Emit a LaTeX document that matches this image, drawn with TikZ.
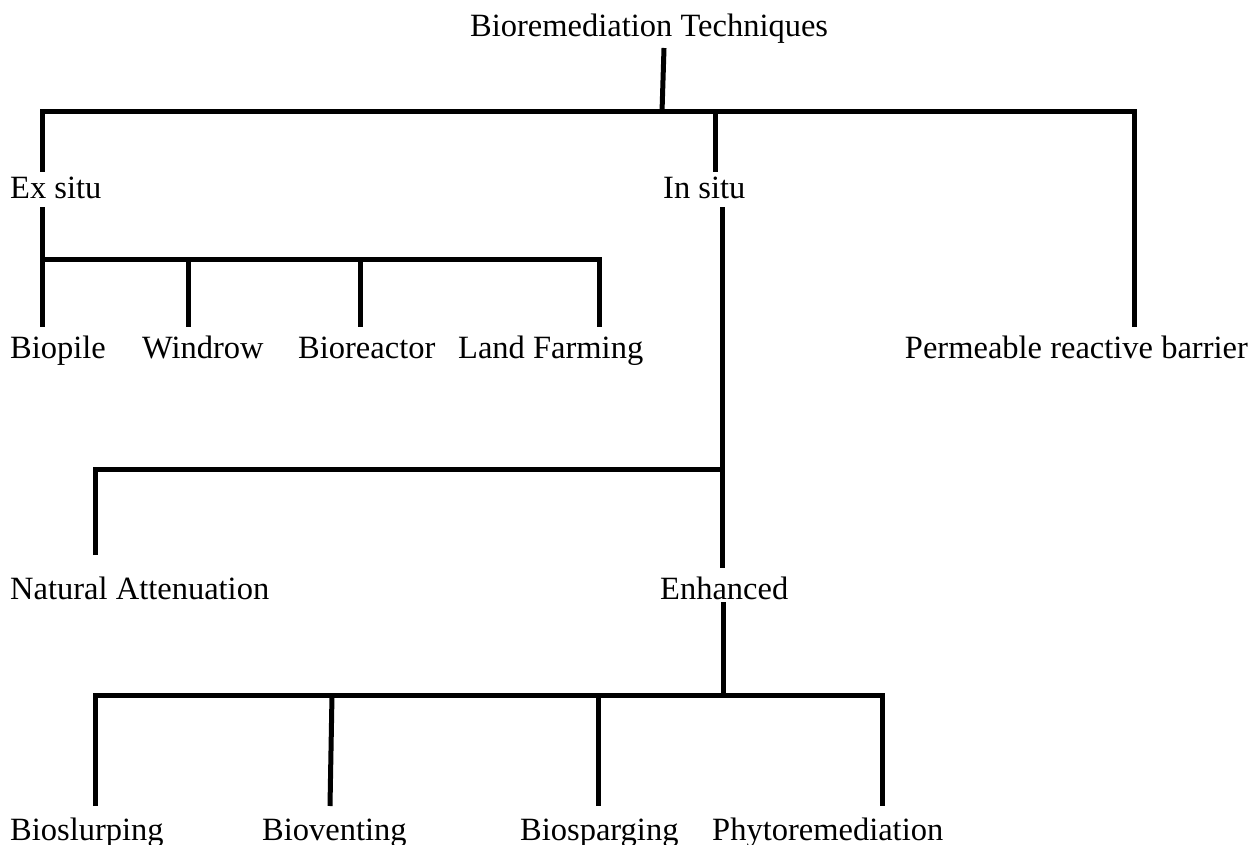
\documentclass[tikz,border=0pt]{standalone}
\usepackage{fontspec}
\setmainfont{Liberation Serif}
\begin{document}
\begin{tikzpicture}[x=1pt,y=-1pt,
  conn/.style={line width=5pt, draw=black},
  lbl/.style={inner sep=0pt, anchor=base west, font=\fontsize{32.5}{38}\selectfont}]
\useasboundingbox (0,0) rectangle (1252,845);
% labels
\node[lbl] (root) at (470,37) {Bioremediation Techniques};
\node[lbl] (ex) at (10,198) {Ex situ};
\node[lbl] (in) at (663,198) {In situ};
\node[lbl] (biopile) at (10,358) {Biopile};
\node[lbl] (windrow) at (142,358) {Windrow};
\node[lbl] (bioreactor) at (298,358) {Bioreactor};
\node[lbl] (land) at (458,358) {Land Farming};
\node[lbl, anchor=base east] (prb) at (1248,358) {Permeable reactive barrier};
\node[lbl] (nat) at (10,599) {Natural Attenuation};
\node[lbl] (enh) at (660,599) {Enhanced};
\node[lbl] (slurp) at (10,840) {Bioslurping};
\node[lbl] (vent) at (262,840) {Bioventing};
\node[lbl] (sparg) at (520,840) {Biosparging};
\node[lbl] (phyto) at (712,840) {Phytoremediation};
% junction coordinates
\coordinate (rootb) at (664,48);
\coordinate (bar1) at (662,112);
\coordinate (exT) at (42,172);
\coordinate (exB) at (42,207);
\coordinate (inT) at (715,172);
\coordinate (inB) at (722,207);
\coordinate (prbT) at (1134,327);
\coordinate (biopileT) at (42,327);
\coordinate (windrowT) at (188,327);
\coordinate (bioreactorT) at (360,327);
\coordinate (landT) at (599,327);
\coordinate (natT) at (95,555);
\coordinate (inEnd) at (722,568);
\coordinate (enhB) at (723,602);
\coordinate (slurpT) at (95,806);
\coordinate (ventT) at (330,806);
\coordinate (spargT) at (598,806);
\coordinate (phytoT) at (882,806);
% connectors
\draw[conn] (rootb) -- (bar1);
\draw[conn] (exT) -- (exT |- bar1) -- (prbT |- bar1) -- (prbT);
\draw[conn] (inT |- bar1) -- (inT);
\draw[conn] (exB) -- (biopileT);
\draw[conn] (42,259) -- (landT |- 0,259) -- (landT);
\draw[conn] (windrowT |- 0,259) -- (windrowT);
\draw[conn] (bioreactorT |- 0,259) -- (bioreactorT);
\draw[conn] (inB) -- (inEnd);
\draw[conn] (natT) -- (natT |- 0,469) -- (722,469);
\draw[conn] (enhB) -- (723,695);
\draw[conn] (slurpT) -- (slurpT |- 0,695) -- (phytoT |- 0,695) -- (phytoT);
\draw[conn] (332,695) -- (ventT);
\draw[conn] (spargT |- 0,695) -- (spargT);
\end{tikzpicture}
\end{document}
